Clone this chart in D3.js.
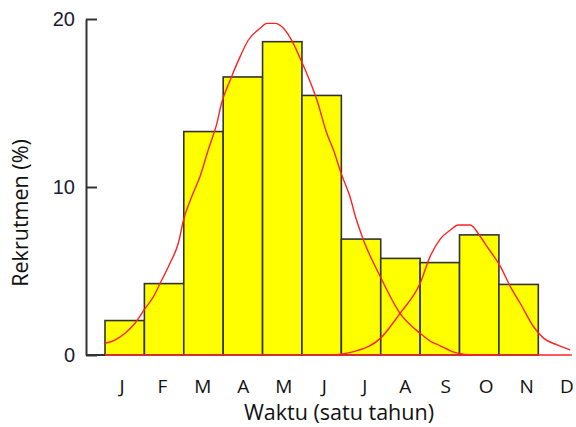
<!DOCTYPE html>
<html>
<head>
<meta charset="utf-8">
<script src="https://cdn.jsdelivr.net/npm/d3@7"></script>
<style>
  html, body { margin: 0; padding: 0; background: #fff; }
  svg { display: block; }
</style>
</head>
<body>
<svg id="chart" width="576" height="427"></svg>
<script>
// ---- data ----
const monthLabels = ["J","F","M","A","M","J","J","A","S","O","N","D"];
const barValues = [2.05, 4.25, 13.3, 16.55, 18.65, 15.45, 6.9, 5.75, 5.5, 7.15, 4.2];
const yTicks = [0, 10, 20];
// fitted curves: [month position, percent]
const curve1 = [[0,0.70],[0.25,0.89],[0.51,1.29],[0.76,1.89],[1.02,2.78],[1.23,3.47],[1.40,4.27],
  [1.65,5.46],[1.86,6.65],[2.0,8.1],[2.20,9.42],[2.41,10.61],[2.62,12.20],[2.84,13.79],[2.96,15.0],
  [3.18,16.37],[3.43,17.76],[3.64,18.75],[3.94,19.45],[4.11,19.74],[4.32,19.74],[4.53,19.45],
  [4.78,18.55],[4.95,17.68],[5.12,16.77],[5.38,15.18],[5.63,13.20],[5.80,12.20],[6.01,10.71],
  [6.22,9.42],[6.35,8.3],[6.56,6.85],[6.99,4.66],[7.49,2.48],[8.00,1.29],[8.26,0.82],[8.51,0.55],
  [8.77,0.25],[9.02,0.08],[9.27,0.02],[9.86,0]];
const curve2 = [[5.76,0],[6.31,0.20],[6.99,0.99],[7.49,2.48],[8.00,4.27],[8.26,5.9],[8.51,6.9],
  [8.77,7.44],[8.97,7.74],[9.27,7.74],[9.53,7.04],[9.70,6.45],[10.04,5.26],[10.29,4.07],
  [10.54,3.08],[10.88,1.68],[11.14,0.99],[11.48,0.60],[11.81,0.30]];
const baseLine = [[0,0],[11.85,0]];
const xTitle = "Waktu (satu tahun)";
const yTitle = "Rekrutmen (%)";

// ---- scales ----
const svg = d3.select("#chart");
svg.append("rect").attr("width",576).attr("height",427).attr("fill","#fff");

const x = d3.scaleLinear().domain([0, 11]).range([105, 538.3]);
const y = d3.scaleLinear().domain([0, 20]).range([355, 19]);
const xLab = d3.scalePoint().domain(d3.range(monthLabels.length)).range([122, 567]);

// ---- bars ----
svg.append("g").selectAll("rect").data(barValues).join("rect")
  .attr("x", (d,i) => x(i))
  .attr("y", d => y(d))
  .attr("width", (d,i) => x(i+1) - x(i))
  .attr("height", d => y(0) - y(d))
  .attr("fill", "#ffff00")
  .attr("stroke", "#333")
  .attr("stroke-width", 1.6);

// ---- y axis ----
const axisX = 86;
const yAxis = d3.axisLeft(y).tickValues(yTicks).tickSize(-11).tickSizeOuter(0).tickPadding(11);
const ag = svg.append("g").attr("transform", `translate(${axisX},0)`).call(yAxis);
ag.select(".domain").attr("stroke", "#333").attr("stroke-width", 2);
ag.selectAll(".tick line").attr("stroke", "#333").attr("stroke-width", 2);
ag.selectAll(".tick text")
  .attr("font-family", "Liberation Sans, Arial, sans-serif")
  .attr("font-size", 20)
  .attr("fill", "#1c1a30");
// bottom connector from axis to first bar
svg.append("line")
  .attr("x1", axisX).attr("x2", x(0))
  .attr("y1", y(0)).attr("y2", y(0))
  .attr("stroke", "#333").attr("stroke-width", 2);

// ---- red lines ----
const line = d3.line().x(d => x(d[0])).y(d => y(d[1])).curve(d3.curveMonotoneX);
svg.append("path").datum(baseLine)
  .attr("d", d3.line().x(d => x(d[0])).y(d => y(d[1])))
  .attr("fill","none").attr("stroke","#ff2222").attr("stroke-width",1.4);
[curve1, curve2].forEach(c => {
  svg.append("path").datum(c).attr("d", line)
    .attr("fill","none").attr("stroke","#ff2222").attr("stroke-width",1.4);
});

// ---- month labels ----
svg.append("g").selectAll("text").data(monthLabels).join("text")
  .attr("x", (d,i) => xLab(i))
  .attr("y", 393)
  .attr("text-anchor", "middle")
  .attr("font-family", "Open Sans, sans-serif")
  .attr("font-size", 19)
  .attr("fill", "#111")
  .text(d => d);

// ---- titles ----
svg.append("text")
  .attr("x", 339).attr("y", 420)
  .attr("text-anchor", "middle")
  .attr("font-family", "Open Sans, sans-serif")
  .attr("font-size", 21.5)
  .attr("fill", "#111")
  .text(xTitle);
svg.append("text")
  .attr("transform", "translate(28,213) rotate(-90)")
  .attr("text-anchor", "middle")
  .attr("font-family", "Open Sans, sans-serif")
  .attr("font-size", 21.5)
  .attr("fill", "#111")
  .text(yTitle);
</script>
</body>
</html>
